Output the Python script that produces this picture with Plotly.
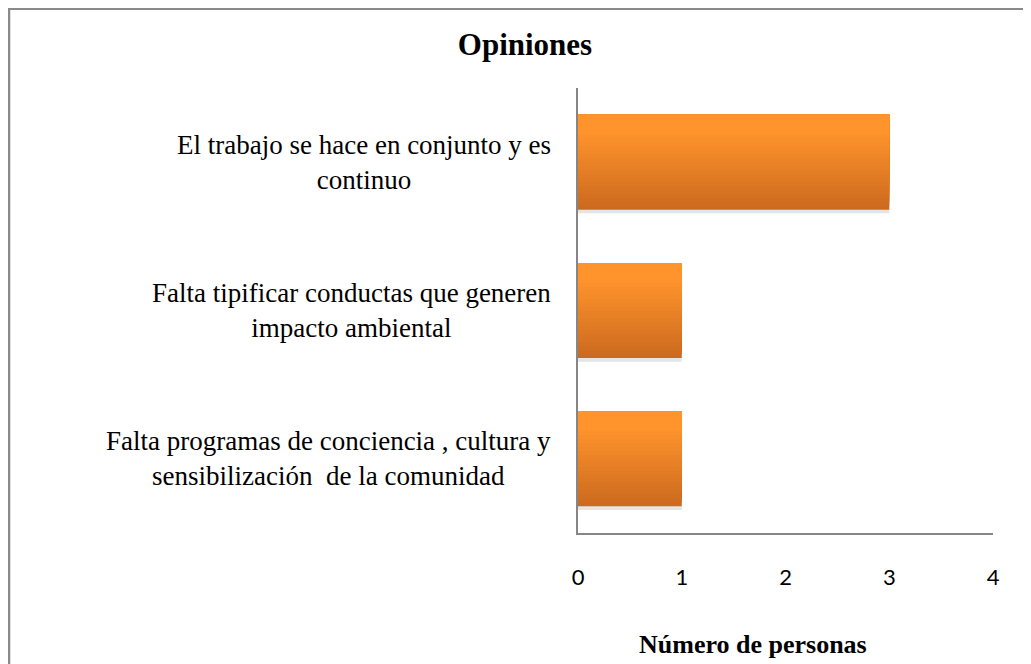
import plotly.graph_objects as go

# ---- data ----
categories = [
    "Falta programas de conciencia , cultura y<br>sensibilización  de la comunidad",
    "Falta tipificar conductas que generen<br>impacto ambiental",
    "El trabajo se hace en conjunto y es<br>continuo",
]
values = [1, 1, 3]
x_ticks = [0, 1, 2, 3, 4]
title_text = "Opiniones"
x_title = "Número de personas"

# ---- styling ----
OFF = 8  # page body margin
W, H = 1031 - OFF, 664 - OFF
L, R, T, B = 578 - OFF, 38, 88 - OFF, 131
PW, PH = W - L - R, H - T - B
serif = "Liberation Serif, Times New Roman, serif"

def px_x(p):  # reference pixel -> paper
    return (p - OFF - L) / PW

def px_y(p):
    return (H - B - (p - OFF)) / PH

fig = go.Figure()

bar_w = 0.64
# soft shadow
fig.add_trace(go.Bar(
    y=categories, x=values, orientation="h",
    width=bar_w, offset=-bar_w / 2 - 0.025,
    marker=dict(color="rgba(0,0,0,0.10)", line=dict(width=0)),
    hoverinfo="skip", showlegend=False,
))

# gradient (top light -> bottom dark), overlapping strips drawn bottom-up
n = 24
top_c = (255, 148, 44)
bot_c = (204, 106, 31)
sw = bar_w / n
for i in range(n):
    t = min(1.0, (i / (n - 1)) * 1.2)
    c = tuple(int(round(bot_c[k] + (top_c[k] - bot_c[k]) * t)) for k in range(3))
    fig.add_trace(go.Bar(
        y=categories, x=values, orientation="h",
        width=bar_w - i * sw, offset=-bar_w / 2 + i * sw,
        marker=dict(color="rgb(%d,%d,%d)" % c, line=dict(width=0)),
        hoverinfo="skip", showlegend=False,
    ))

annotations = []
for cat in categories:
    annotations.append(dict(
        x=px_x(553), xref="paper", y=cat, yref="y",
        text=cat, showarrow=False, xanchor="right", yanchor="middle",
        align="center", font=dict(family=serif, size=27, color="black"),
    ))
annotations.append(dict(
    x=px_x(753), xref="paper", y=px_y(644), yref="paper",
    text="<b>" + x_title + "</b>", showarrow=False,
    xanchor="center", yanchor="middle",
    font=dict(family=serif, size=26, color="black"),
))

border = "#8a8a8a"
shapes = [
    dict(type="line", xref="paper", yref="paper",
         x0=px_x(9), x1=px_x(9), y0=px_y(6), y1=px_y(700),
         line=dict(color=border, width=2.5)),
    dict(type="line", xref="paper", yref="paper",
         x0=px_x(8), x1=px_x(1060), y0=px_y(9), y1=px_y(9),
         line=dict(color=border, width=2)),
]

fig.update_layout(
    width=W, height=H,
    margin=dict(l=L, r=R, t=T, b=B),
    paper_bgcolor="white", plot_bgcolor="white",
    barmode="overlay",
    showlegend=False,
    title=dict(text="<b>" + title_text + "</b>", x=(525 - OFF) / W, xanchor="center",
               y=1 - (44 - OFF) / H, yanchor="middle", yref="container",
               font=dict(family=serif, size=31, color="black")),
    xaxis=dict(range=[0, 4], tickvals=x_ticks, showgrid=False, zeroline=False,
               showline=True, linecolor="#868686", linewidth=2,
               ticks="", ticklabelstandoff=24,
               tickfont=dict(family="Lato, Open Sans, sans-serif", size=22, color="black")),
    yaxis=dict(type="category", categoryorder="array", categoryarray=categories,
               showticklabels=False, showgrid=False, zeroline=False,
               showline=True, linecolor="#868686", linewidth=2, ticks="",
               range=[-0.5, 2.5]),
    annotations=annotations,
    shapes=shapes,
)

fig.write_html("out.html")
